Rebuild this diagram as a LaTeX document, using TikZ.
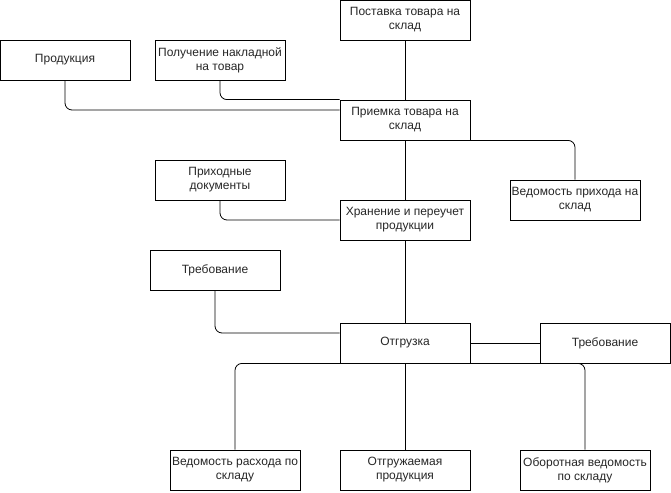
\documentclass[tikz,border=0pt]{standalone}
\usepackage{fontspec}
\setmainfont{Liberation Sans}
\begin{document}
\begin{tikzpicture}[x=1pt, y=-1pt,
    box/.style={draw, line width=0.8pt, minimum width=130pt, minimum height=40pt,
      inner sep=0pt, align=center, text=black!85, font=\fontsize{12}{14}\selectfont},
    link/.style={draw, line width=0.8pt, rounded corners=7pt}]
  \useasboundingbox (0,0) rectangle (671,492);
  % upper part
  \node[box] (post) at (405,20)  {Поставка товара на\\склад};
  \node[box] (prod) at (65,60)   {Продукция};
  \node[box] (pol)  at (220,60)  {Получение накладной\\на товар};
  \node[box] (prm)  at (405,120) {Приемка товара на\\склад};
  \node[box] (prih) at (220,180) {Приходные\\документы};
  \node[box] (vedp) at (575,200) {Ведомость прихода на\\склад};
  \node[box] (xr)   at (405,220) {Хранение и переучет\\продукции};
  \node[box] (treb) at (215,270) {Требование};
  % lower part
  \node[box] (otg)  at (405,343) {Отгрузка};
  \node[box] (trebb) at (605,343) {Требование};
  \node[box] (vedr) at (235,470) {Ведомость расхода по\\складу};
  \node[box] (otgp) at (405,470) {Отгружаемая\\продукция};
  \node[box] (obor) at (585,470) {Оборотная ведомость\\по складу};
  % connectors
  \draw[link] (post) -- (prm);
  \draw[link] (prod.south) |- ([yshift=10pt]prm.west);
  \draw[link] (pol.south) |- (prm.north west);
  \draw[link] (prm) -- (xr);
  \draw[link] (prm.south) -| (vedp.north);
  \draw[link] (prih.south) |- (xr.west);
  \draw[link] (xr) -- (otg);
  \draw[link] (treb.south) |- ([yshift=10pt]otg.west);
  \draw[link] (otg) -- (trebb);
  \draw[link] (otg.south) -| (vedr.north);
  \draw[link] (otg.south) -| (obor.north);
  \draw[link] (otg) -- (otgp);
\end{tikzpicture}
\end{document}
